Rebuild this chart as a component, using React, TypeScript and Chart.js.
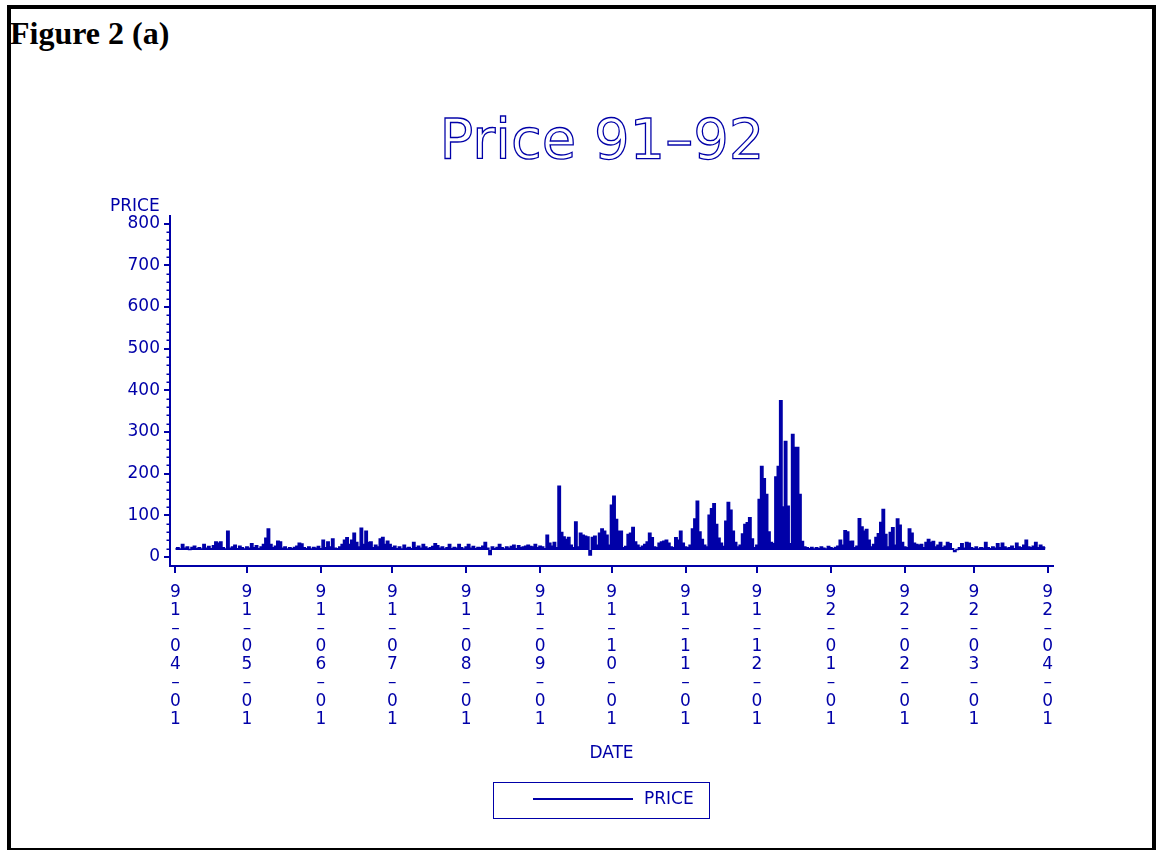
import React, { useEffect, useRef } from "react";
import { Chart, registerables } from "chart.js";

Chart.register(...registerables);

const BLUE = "#0000a8";
const chartTitle = "Price 91–92";
const figureLabel = "Figure 2 (a)";
const yAxisLabel = "PRICE";
const xAxisLabel = "DATE";
const seriesName = "PRICE";

const yTickValues = [0, 100, 200, 300, 400, 500, 600, 700, 800];
const yMinorStep = 20;

// day offsets (from 91-04-01) of the month-start ticks
const monthStartDays = [0, 30, 61, 91, 122, 153, 183, 214, 244, 275, 306, 335, 366];
const dateTickLabels = [
  "91-04-01", "91-05-01", "91-06-01", "91-07-01", "91-08-01", "91-09-01", "91-10-01",
  "91-11-01", "91-12-01", "92-01-01", "92-02-01", "92-03-01", "92-04-01",
];

// daily price, starting 91-04-01
const priceValues = [
  20, 22, 19, 30, 21, 24, 18, 23, 26, 20,
  22, 19, 30, 21, 25, 20, 27, 36, 33, 36,
  22, 19, 62, 21, 24, 28, 20, 26, 22, 19,
  24, 21, 32, 22, 27, 20, 24, 30, 45, 67,
  30, 22, 26, 38, 36, 21, 24, 19, 22, 20,
  23, 26, 33, 31, 22, 20, 24, 19, 23, 21,
  25, 20, 40, 22, 36, 24, 43, 21, 20, 24,
  30, 40, 46, 30, 40, 57, 35, 24, 69, 30,
  62, 35, 36, 22, 28, 24, 43, 47, 30, 38,
  30, 22, 26, 20, 24, 19, 28, 21, 23, 20,
  35, 22, 26, 21, 30, 24, 20, 22, 25, 32,
  27, 21, 24, 19, 22, 30, 20, 23, 21, 30,
  22, 19, 24, 30, 21, 25, 20, 23, 22, 26,
  35, 21, 6, 24, 20, 23, 30, 22, 19, 24,
  21, 25, 28, 20, 27, 22, 24, 26, 28, 25,
  24, 30, 22, 26, 24, 20, 52, 33, 26, 35,
  22, 170, 59, 48, 42, 47, 28, 22, 84, 24,
  57, 52, 50, 48, 5, 47, 50, 28, 57, 67,
  62, 52, 28, 124, 146, 90, 62, 62, 22, 25,
  54, 57, 71, 36, 28, 22, 26, 30, 36, 57,
  46, 24, 22, 33, 36, 38, 40, 33, 24, 22,
  46, 40, 62, 33, 24, 22, 28, 67, 91, 134,
  60, 42, 28, 24, 100, 116, 128, 78, 45, 33,
  25, 86, 131, 112, 62, 35, 24, 28, 55, 78,
  82, 94, 43, 22, 28, 138, 217, 188, 150, 60,
  35, 32, 192, 217, 375, 120, 277, 122, 32, 294,
  263, 263, 150, 37, 24, 22, 20, 23, 19, 22,
  20, 24, 21, 19, 25, 22, 20, 23, 26, 40,
  28, 63, 60, 37, 38, 22, 26, 92, 72, 62,
  66, 40, 24, 30, 47, 56, 83, 114, 54, 24,
  59, 70, 28, 91, 76, 35, 24, 22, 67, 57,
  33, 30, 28, 30, 22, 35, 42, 35, 37, 24,
  28, 35, 22, 26, 35, 32, 20, 13, 18, 22,
  32, 21, 35, 33, 22, 20, 24, 19, 22, 21,
  35, 22, 20, 24, 21, 32, 22, 33, 24, 21,
  22, 26, 20, 33, 24, 22, 28, 40, 24, 22,
  26, 35, 22, 28, 24, 22,
];

// typical floor of the daily price band (used as fill level)
const priceFloor = 17;

const FONT_FAMILY = '"DejaVu Sans", "Liberation Sans", sans-serif';

const decorPlugin = {
  id: "decor",
  afterDraw(chart: any) {
    const ctx = chart.ctx as CanvasRenderingContext2D;
    const area = chart.chartArea;
    const yScale = chart.scales.y;
    ctx.save();

    // outlined title
    ctx.font = `56px ${FONT_FAMILY}`;
    ctx.strokeStyle = BLUE;
    ctx.lineWidth = 1.3;
    ctx.textAlign = "center";
    ctx.textBaseline = "alphabetic";
    ctx.strokeText(chartTitle, 602, 158);

    // y axis label above the axis
    ctx.fillStyle = BLUE;
    ctx.font = `17px ${FONT_FAMILY}`;
    ctx.textAlign = "left";
    ctx.fillText(yAxisLabel, 110, 211);

    // minor ticks on the y axis
    ctx.strokeStyle = BLUE;
    ctx.lineWidth = 1.5;
    const lo = yTickValues[0];
    const hi = yTickValues[yTickValues.length - 1];
    for (let v = lo; v <= hi; v += yMinorStep) {
      if (yTickValues.includes(v)) continue;
      const y = Math.round(yScale.getPixelForValue(v)) + 0.25;
      ctx.beginPath();
      ctx.moveTo(area.left - 3.5, y);
      ctx.lineTo(area.left, y);
      ctx.stroke();
    }

    // legend box
    ctx.lineWidth = 1;
    ctx.strokeRect(493.5, 782.5, 216, 36);
    ctx.lineWidth = 2;
    ctx.beginPath();
    ctx.moveTo(533, 799);
    ctx.lineTo(633, 799);
    ctx.stroke();
    ctx.textBaseline = "middle";
    ctx.fillText(seriesName, 644, 800);

    ctx.restore();
  },
};

export default function App() {
  const canvasRef = useRef<HTMLCanvasElement | null>(null);

  useEffect(() => {
    const canvas = canvasRef.current;
    if (!canvas) return;
    const points = priceValues.map((v, i) => ({ x: i, y: v }));
    const tickFont = { family: FONT_FAMILY, size: 17, lineHeight: 1.07 };

    const chart = new Chart(canvas, {
      type: "line",
      data: {
        datasets: [
          {
            label: seriesName,
            data: points,
            borderColor: BLUE,
            backgroundColor: BLUE,
            borderWidth: 1.5,
            pointRadius: 0,
            stepped: "middle",
            tension: 0,
            fill: { value: priceFloor },
          },
        ],
      },
      options: {
        animation: false,
        responsive: false,
        maintainAspectRatio: false,
        devicePixelRatio: 1,
        layout: { padding: { left: 100, right: 107, top: 216, bottom: 84 } },
        plugins: {
          legend: { display: false },
          title: { display: false },
          tooltip: { enabled: false },
          filler: { propagate: false },
        },
        scales: {
          x: {
            type: "linear",
            min: -2.3,
            max: 368.2,
            afterFit: (s: any) => {
              s.height = 200;
            },
            afterBuildTicks: (s: any) => {
              s.ticks = monthStartDays.map((v) => ({ value: v }));
            },
            ticks: {
              autoSkip: false,
              maxRotation: 0,
              minRotation: 0,
              color: BLUE,
              font: tickFont,
              padding: 10,
              callback: (value: any) => {
                const idx = monthStartDays.indexOf(Number(value));
                const label = idx >= 0 ? dateTickLabels[idx] : "";
                return label.split("").map((c) => (c === "-" ? "–" : c));
              },
            },
            grid: {
              drawOnChartArea: false,
              drawTicks: true,
              tickLength: 7,
              tickWidth: 2,
              tickColor: BLUE,
              color: BLUE,
              lineWidth: 2,
            },
            border: { display: true, color: BLUE, width: 2 },
            title: {
              display: true,
              text: xAxisLabel,
              color: BLUE,
              font: { family: FONT_FAMILY, size: 17 },
              padding: { top: 0, bottom: 2 },
            },
          },
          y: {
            type: "linear",
            min: -21.5,
            max: 818,
            afterFit: (s: any) => {
              s.width = 70;
            },
            afterBuildTicks: (s: any) => {
              s.ticks = yTickValues.map((v) => ({ value: v }));
            },
            ticks: {
              color: BLUE,
              font: { family: FONT_FAMILY, size: 17 },
              padding: 4,
              callback: (value: any) => String(value),
            },
            grid: {
              drawOnChartArea: false,
              drawTicks: true,
              tickLength: 6,
              tickWidth: 2,
              tickColor: BLUE,
              color: BLUE,
              lineWidth: 2,
            },
            border: { display: true, color: BLUE, width: 2 },
          },
        },
      },
      plugins: [decorPlugin],
    } as any);

    return () => {
      chart.destroy();
    };
  }, []);

  return (
    <div
      style={{
        position: "absolute",
        left: 0,
        top: 0,
        width: 1160,
        height: 850,
        background: "#ffffff",
        overflow: "hidden",
      }}
    >
      <div
        style={{
          position: "absolute",
          left: 7,
          top: 5,
          width: 1149,
          height: 847,
          border: "4px solid #000",
          boxSizing: "border-box",
        }}
      />
      <div
        style={{
          position: "absolute",
          left: 10,
          top: 17,
          font: 'bold 32px "Liberation Serif", "Times New Roman", serif',
          lineHeight: 1,
          color: "#000",
          whiteSpace: "nowrap",
        }}
      >
        {figureLabel}
      </div>
      <canvas
        ref={canvasRef}
        width={1160}
        height={850}
        style={{ position: "absolute", left: 0, top: 0, width: 1160, height: 850 }}
      />
    </div>
  );
}
